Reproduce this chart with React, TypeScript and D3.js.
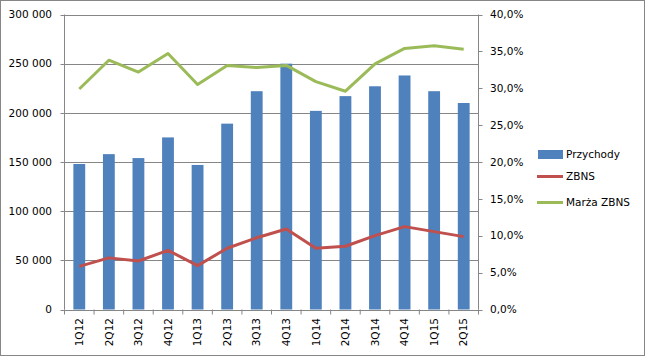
import React from "react";
import * as d3 from "d3";

const categories = ["1Q12","2Q12","3Q12","4Q12","1Q13","2Q13","3Q13","4Q13","1Q14","2Q14","3Q14","4Q14","1Q15","2Q15"];
const przychody = [148000,158000,154000,175000,147000,189000,222000,250000,202000,217000,227000,238000,222000,210000];
const zbns = [43800,52500,49300,60200,44600,62300,73000,81900,62300,64300,75100,84300,79200,74100];
const marza = [29.9,33.8,32.2,34.7,30.5,33.1,32.8,33.1,30.9,29.6,33.3,35.4,35.75,35.3];
const leftTicks = [0,50000,100000,150000,200000,250000,300000];
const rightTicks = [0,5,10,15,20,25,30,35,40];

const W = 646, H = 357;
const L = 64.5, R = 478.5, T = 14.5, B = 309.5;
const FONT = "DejaVu Sans";
const FS = 10.5;
const BLUE = "#4F81BD", RED = "#C0504D", GREEN = "#9BBB59", GRID = "#868686";

const fmtL = (v: number) => {
  const s = String(v);
  return s.replace(/\B(?=(\d{3})+(?!\d))/g, " ");
};
const fmtR = (v: number) => v.toFixed(1).replace(".", ",") + "%";

export default function App() {
  const x = d3.scaleBand<string>().domain(categories).range([L, R]).paddingInner(0.6).paddingOuter(0.3);
  const xc = (c: string) => (x(c) as number) + x.bandwidth() / 2;
  const band = (R - L) / categories.length;
  const yL = d3.scaleLinear().domain([0, 300000]).range([B, T]);
  const yR = d3.scaleLinear().domain([0, 40]).range([B, T]);
  const lineL = d3.line<number>().x((_, i) => xc(categories[i])).y(d => yL(d));
  const lineR = d3.line<number>().x((_, i) => xc(categories[i])).y(d => yR(d));

  return (
    <svg width={W} height={H} style={{ position: "absolute", left: 0, top: 0, background: "#fff" }} fontFamily={FONT} fontSize={FS}>
      <rect x={0.5} y={0.5} width={644} height={355} fill="#fff" stroke={GRID} strokeWidth={1} />
      {leftTicks.map(t => (
        <g key={"g" + t}>
          <line x1={L - 4} x2={R} y1={Math.round(yL(t)) + 0.5} y2={Math.round(yL(t)) + 0.5} stroke={GRID} strokeWidth={1} />
          <text x={52} y={yL(t)} dy="0.35em" textAnchor="end" fill="#000">{fmtL(t)}</text>
        </g>
      ))}
      {przychody.map((v, i) => (
        <rect key={"b" + i} x={x(categories[i])} y={yL(v)} width={x.bandwidth()} height={B - yL(v)} fill={BLUE} />
      ))}
      <line x1={L} x2={L} y1={T} y2={B} stroke={GRID} />
      <line x1={R} x2={R} y1={T} y2={B} stroke={GRID} />
      {rightTicks.map(t => (
        <g key={"r" + t}>
          <line x1={R} x2={R + 4} y1={Math.round(yR(t)) + 0.5} y2={Math.round(yR(t)) + 0.5} stroke={GRID} />
          <text x={490} y={yR(t)} dy="0.35em" textAnchor="start" fill="#000">{fmtR(t)}</text>
        </g>
      ))}
      {d3.range(categories.length + 1).map(i => (
        <line key={"t" + i} x1={L + i * band} x2={L + i * band} y1={B} y2={B + 5} stroke={GRID} />
      ))}
      {categories.map(c => (
        <text key={"c" + c} transform={`translate(${xc(c)},318) rotate(-90)`} textAnchor="end" dy="0.35em" fill="#000">{c}</text>
      ))}
      <path d={lineL(zbns) || ""} fill="none" stroke={RED} strokeWidth={3} strokeLinejoin="round" />
      <path d={lineR(marza) || ""} fill="none" stroke={GREEN} strokeWidth={3} strokeLinejoin="round" />
      <rect x={538} y={150} width={25} height={9} fill={BLUE} />
      <text x={566} y={154.5} dy="0.35em" fill="#000">Przychody</text>
      <line x1={537} x2={563} y1={176.5} y2={176.5} stroke={RED} strokeWidth={3} />
      <text x={566} y={176.5} dy="0.35em" fill="#000">ZBNS</text>
      <line x1={537} x2={563} y1={202.5} y2={202.5} stroke={GREEN} strokeWidth={3} />
      <text x={566} y={202.5} dy="0.35em" fill="#000">Marża ZBNS</text>
    </svg>
  );
}
